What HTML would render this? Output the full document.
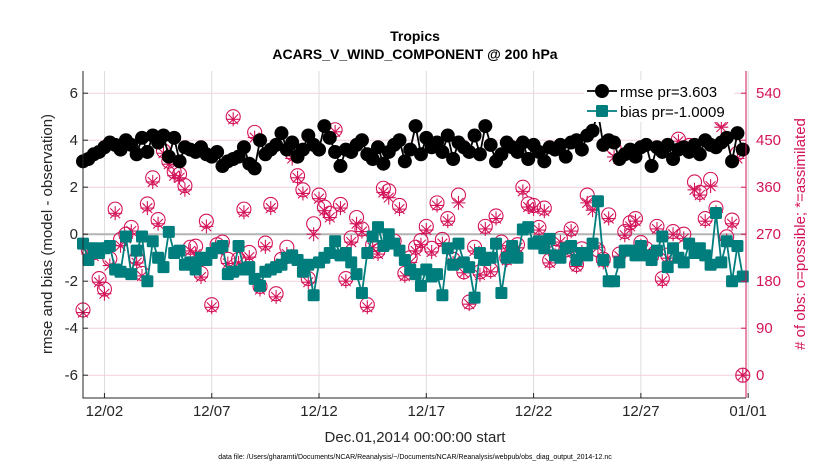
<!DOCTYPE html>
<html><head><meta charset="utf-8"><style>
html,body{margin:0;padding:0;background:#fff;}
svg{display:block;font-family:"Liberation Sans",Arial,sans-serif;}
</style></head><body>
<svg id="chart" width="830" height="470" viewBox="0 0 830 470" xmlns="http://www.w3.org/2000/svg">
<rect x="0" y="0" width="830" height="470" fill="#fff"/>
<text x="415" y="41" text-anchor="middle" font-size="14" font-weight="bold">Tropics</text>
<text x="415" y="59" text-anchor="middle" font-size="14" font-weight="bold">ACARS_V_WIND_COMPONENT @ 200 hPa</text>
<g id="grid"></g>
<g id="series"></g>
<g id="axes"></g>
<text transform="translate(52,234) rotate(-90)" text-anchor="middle" font-size="15" fill="#262626">rmse and bias (model - observation)</text>
<text transform="translate(805,234) rotate(-90)" text-anchor="middle" font-size="15" fill="#d4145a"># of obs: o=possible; *=assimilated</text>
<text x="415" y="442" text-anchor="middle" font-size="15" fill="#262626">Dec.01,2014 00:00:00 start</text>
<text x="415" y="459" text-anchor="middle" font-size="7" fill="#000">data file: /Users/gharamti/Documents/NCAR/Reanalysis/~/Documents/NCAR/Reanalysis/webpub/obs_diag_output_2014-12.nc</text>
<g id="legend"></g>
</svg>
<script>
const xTickLabels = ["12/02","12/07","12/12","12/17","12/22","12/27","01/01"];
const xTickDays = [1,6,11,16,21,26,31];
const yTicks = [-6,-4,-2,0,2,4,6];
const y2Ticks = [0,90,180,270,360,450,540];
const rmse = [3.1,3.2,3.4,3.5, 3.7,3.9,3.8,3.6, 4.0,3.8,3.4,4.1, 3.5,4.2,3.9,4.2,
 3.3,4.1,3.1,3.7, 3.6,3.5,3.7,3.4, 3.3,3.5,2.9,3.1, 3.2,3.3,3.7,3.0,
 2.8,4.0,3.4,3.6, 3.8,4.3,3.6,3.9, 3.3,3.6,4.2,3.8, 3.6,4.6,4.1,3.5,
 2.9,3.6,3.5,3.8, 4.0,3.4,3.2,3.7, 3.0,3.5,3.8,4.0, 3.1,3.6,4.6,3.4,
 4.1,3.7,3.9,3.5, 4.2,3.2,3.9,3.7, 3.5,4.2,3.4,4.6, 3.8,3.1,3.4,3.9,
 3.7,3.5,3.9,3.2, 3.8,3.5,3.1,3.7, 3.6,3.8,3.3,3.9, 4.0,3.6,4.2,4.4,
 5.2,3.8,4.0,3.9, 3.2,3.4,3.6,3.3, 3.7,3.8,2.9,3.7, 3.5,3.8,3.2,3.6,
 3.7,3.5,3.8,3.4, 4.0,3.8,3.7,3.9, 4.1,3.1,4.3,3.6];
const bias = [-0.4,-1.1,-0.6,-0.8, -0.6,-0.5,-1.5,-1.6, -0.1,-1.7,-0.7,-0.1, -2.0,-0.3,-1.0,-1.4,
 0.1,-0.8,-0.7,-1.3, -1.2,-1.5,-1.0,-1.1, -0.8,-0.6,-0.5,-1.7, -1.6,-0.5,-1.5,-1.4,
 -1.9,-2.2,-1.6,-1.5, -1.4,-1.3,-1.0,-0.9, -1.1,-1.6,-1.3,-2.6, -1.2,-1.0,-0.8,-0.3,
 -0.9,-0.8,-1.2,-1.7, -2.5,-0.8,-0.1,0.3, -0.5,0.0,-0.4,-0.7, -1.1,-1.5,-1.7,-2.2,
 -1.5,-1.8,-1.7,-2.6, -0.6,-1.3,-0.4,-1.2, -1.4,-2.7,-0.8,-1.1, -1.0,-0.4,-2.5,-1.0,
 -0.5,-1.0,0.2,0.3, -0.4,-0.3,-0.6,-0.2, -0.9,-1.0,-0.6,-0.5, -1.1,-0.8,-0.9,-0.4,
 1.4,-1.1,-2.0,-2.0, -1.2,-0.7,-0.7,-0.9, -0.5,-0.9,-1.1,-0.7, -0.1,-1.4,-0.6,-1.0,
 -1.2,-0.4,-0.8,-0.6, -0.9,-1.3,0.9,-1.2, -0.3,-2.0,-0.5,-1.8];
const nPossible = [125,240,235,185, 165,223,318,260, 270,283,224,195, 328,378,298,430,
 410,390,385,363, 245,247,195,295, 135,250,255,222, 495,222,318,235,
 465,170,253,327, 156,222,245,425, 382,355,185,290, 345,322,310,470,
 327,185,263,302, 280,135,250,238, 358,353,257,325, 195,225,245,258,
 285,243,330,260, 300,222,345,198, 140,245,198,285, 202,305,255,225,
 240,250,360,328, 325,283,320,220, 235,262,240,280, 212,242,345,330,
 240,222,307,435, 232,275,292,300, 254,242,228,285, 185,230,275,452,
 270,440,370,350, 300,375,320,490, 265,297,425,0];
const nAssim = [120,232,228,178, 156,210,310,248, 262,276,215,190, 320,370,290,425,
 404,382,378,355, 238,232,188,285, 130,240,246,214, 490,215,312,226,
 455,164,246,320, 150,214,232,415, 378,348,178,270, 338,315,302,466,
 320,180,255,290, 275,130,244,232, 350,340,250,318, 190,216,238,250,
 278,236,325,252, 295,215,330,196, 136,238,192,280, 198,300,248,220,
 236,244,352,322, 318,278,314,215, 230,255,234,276, 208,236,330,316,
 245,216,300,418, 228,268,285,295, 248,236,222,280, 180,224,270,448,
 262,430,355,345, 295,362,312,475, 258,290,415,0];

const NS="http://www.w3.org/2000/svg";
const PL=83, PR=746, PT=71, PB=398;
const xDay = d => PL + d*(PR-PL)/30.9;
const yL = v => 234.2 - v*23.5;
const yR = c => yL((c-270)/45);
const MAG="#d4145a", TEAL="#007d7d";
function mk(tag, attrs, parent){const e=document.createElementNS(NS,tag);for(const k in attrs)e.setAttribute(k,attrs[k]);parent.appendChild(e);return e;}
const grid=document.getElementById('grid'), ser=document.getElementById('series'), axes=document.getElementById('axes'), leg=document.getElementById('legend');

xTickDays.forEach(d=>{const l=mk('line',{x1:xDay(d),x2:xDay(d),y1:PT,y2:PB,stroke:'#dcdcdc','stroke-width':1},grid);

});
y2Ticks.forEach(c=>{const l=mk('line',{x1:PL,x2:PR,y1:yR(c),y2:yR(c),stroke:'#f2cfdc','stroke-width':1},grid);

});
const z=mk('line',{x1:PL,x2:PR,y1:yL(0),y2:yL(0),stroke:'#b4b4b4','stroke-width':2},grid);



const day = i => i*0.25;
function asterisk(cx,cy,r,p){const d=`M${cx-r},${cy}H${cx+r}M${cx},${cy-r}V${cy+r}M${cx-r*0.7},${cy-r*0.7}L${cx+r*0.7},${cy+r*0.7}M${cx-r*0.7},${cy+r*0.7}L${cx+r*0.7},${cy-r*0.7}`;return mk('path',{d,stroke:MAG,'stroke-width':1.1,fill:'none'},p);}
nPossible.forEach((c,i)=>{const m=mk('circle',{cx:xDay(day(i)),cy:yR(c),r:7,fill:'none',stroke:MAG,'stroke-width':1.1},ser);

});
nAssim.forEach((c,i)=>{const m=asterisk(xDay(day(i)),yR(c),7,ser);

});

const rl=mk('polyline',{points:rmse.map((v,i)=>xDay(day(i))+','+yL(v)).join(' '),fill:'none',stroke:'#000','stroke-width':1.8},ser);


rmse.forEach((v,i)=>{const m=mk('circle',{cx:xDay(day(i)),cy:yL(v),r:7,fill:'#000'},ser);

});
const bl=mk('polyline',{points:bias.map((v,i)=>xDay(day(i))+','+yL(v)).join(' '),fill:'none',stroke:TEAL,'stroke-width':1.8},ser);


bias.forEach((v,i)=>{const m=mk('rect',{x:xDay(day(i))-6,y:yL(v)-6,width:12,height:12,rx:1.5,fill:TEAL},ser);

});

const fr=mk('path',{d:`M${PL},${PT}V${PB}H${PR}`,fill:'none',stroke:'#262626','stroke-width':1},axes);


const ra=mk('line',{x1:PR,x2:PR,y1:PT,y2:PB,stroke:MAG,'stroke-width':1},axes);


xTickDays.forEach((d,i)=>{const x=xDay(d);
mk('line',{x1:x,x2:x,y1:PB,y2:PB-5,stroke:'#262626'},axes);
const t=mk('text',{x:x,y:PB+18,'text-anchor':'middle','font-size':15,fill:'#262626'},axes);t.textContent=xTickLabels[i];

});
yTicks.forEach(v=>{const y=yL(v);
mk('line',{x1:PL,x2:PL+5,y1:y,y2:y,stroke:'#262626'},axes);
const t=mk('text',{x:PL-5,y:y+5,'text-anchor':'end','font-size':15,fill:'#262626'},axes);t.textContent=v;

});
y2Ticks.forEach(c=>{const y=yR(c);
mk('line',{x1:PR,x2:PR-5,y1:y,y2:y,stroke:MAG},axes);
const t=mk('text',{x:PR+10,y:y+5,'text-anchor':'start','font-size':15,fill:MAG},axes);t.textContent=c;

});

mk('rect',{x:584,y:80,width:150,height:42,fill:'#fff'},leg);
mk('line',{x1:587,x2:617,y1:91,y2:91,stroke:'#000','stroke-width':1.8},leg);
mk('circle',{cx:602,cy:91,r:7,fill:'#000'},leg);
const t1=mk('text',{x:620,y:97,'font-size':15,fill:'#000'},leg);t1.textContent='rmse pr=3.603';


mk('line',{x1:587,x2:617,y1:111,y2:111,stroke:TEAL,'stroke-width':1.8},leg);
mk('rect',{x:596,y:105,width:12,height:12,rx:1.5,fill:TEAL},leg);
const t2=mk('text',{x:620,y:117,'font-size':15,fill:'#000'},leg);t2.textContent='bias pr=-1.0009';


</script>
</body></html>
